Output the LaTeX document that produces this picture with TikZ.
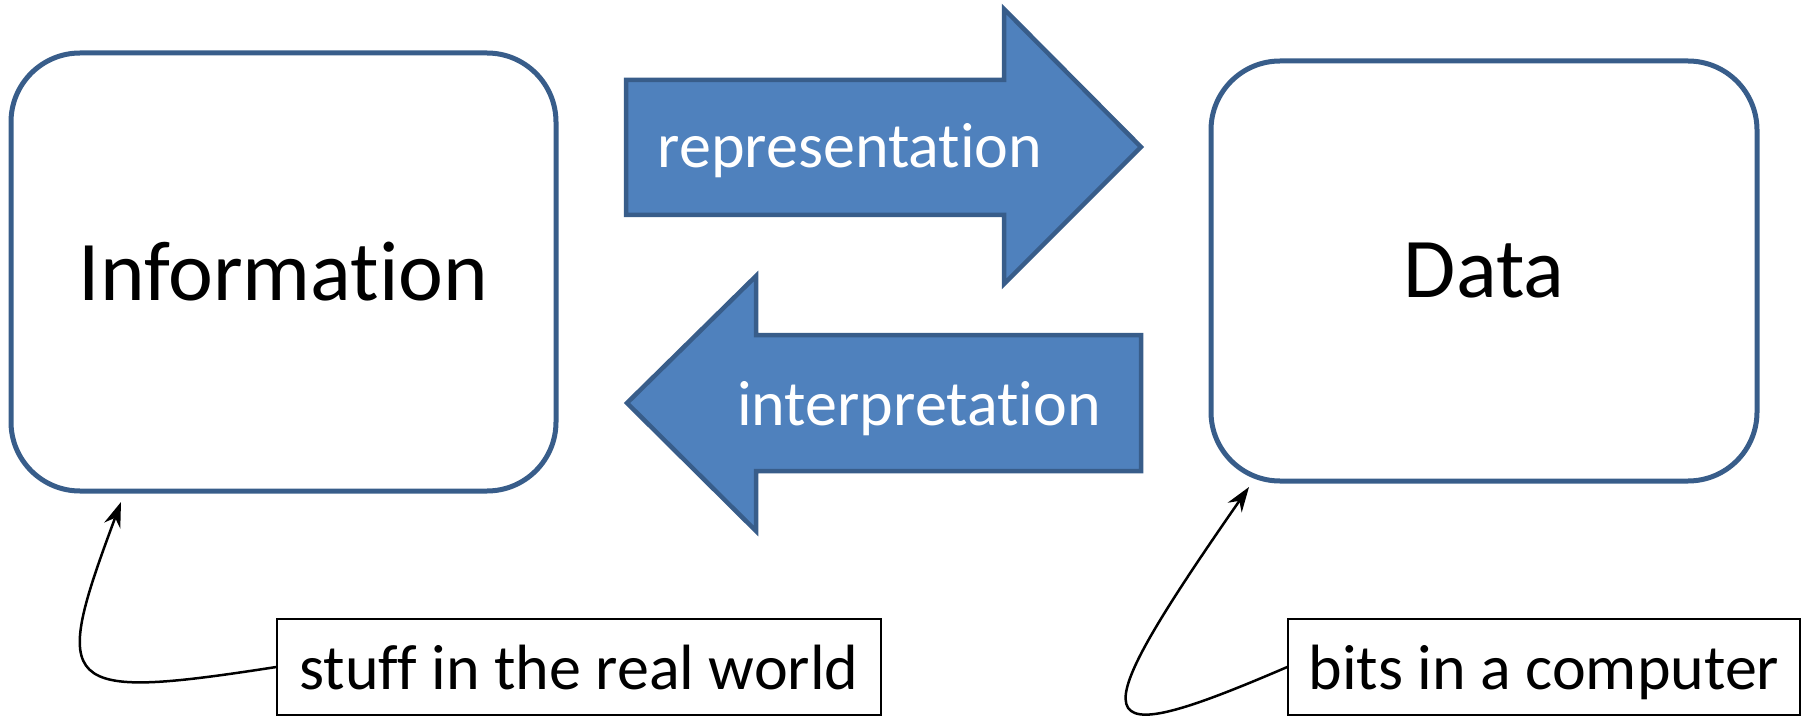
\documentclass[tikz,border=0pt]{standalone}
\usepackage{fontspec}
\setmainfont{Carlito}[Ligatures=NoCommon]
\usetikzlibrary{arrows.meta, positioning}
\definecolor{officeblue}{HTML}{4F81BD}
\definecolor{officeline}{HTML}{385D8A}

\begin{document}
\begin{tikzpicture}[
    x=1pt, y=-1pt,
    bigbox/.style={
        draw=officeline,
        line width=5pt,
        rounded corners=69pt,
        font=\fontsize{85}{90}\selectfont,
    },
    blockarrow/.style={
        draw=officeline,
        fill=officeblue,
        line width=4.5pt,
    },
    arrowtext/.style={
        text=white,
        font=\fontsize{64}{70}\selectfont,
        anchor=base,
    },
    callout/.style={
        draw,
        line width=1.5pt,
        minimum height=96pt,
        font=\fontsize{64}{70}\selectfont,
        text depth=0pt,
    },
    pointer/.style={
        line width=2.5pt,
        -{Stealth[length=25pt, width=17pt]},
    }
]
    \useasboundingbox (0,0) rectangle (1802,722);

    % Boxes
    \node[bigbox, minimum width=545pt, minimum height=438pt] (info) at (283.5,272) {Information};
    \node[bigbox, minimum width=546pt, minimum height=420pt] (data) at (1484,271) {Data};

    % Block arrows
    \draw[blockarrow] (626,80) -- (1004,80) -- (1004,9) -- (1141,147)
        -- (1004,284) -- (1004,215) -- (626,215) -- cycle;
    \draw[blockarrow] (1141,335) -- (756,335) -- (756,276) -- (627,403)
        -- (756,531) -- (756,471) -- (1141,471) -- cycle;
    \node[arrowtext] (reptext) at (850,168) {representation};
    \node[arrowtext] (inttext) at (919,425) {interpretation};

    % Callouts
    \node[callout, minimum width=604pt] (stuff) at (579,667) {stuff in the real world};
    \node[callout, minimum width=512pt] (bits) at (1544,667) {bits in a computer};
    \coordinate (infotip) at (121,502);
    \coordinate (datatip) at (1249,487);
    \draw[pointer] (stuff.west) .. controls (57,701) and (51,690) .. (infotip);
    \draw[pointer] (bits.west) .. controls (1083,755) and (1078,733) .. (datatip);
\end{tikzpicture}
\end{document}
